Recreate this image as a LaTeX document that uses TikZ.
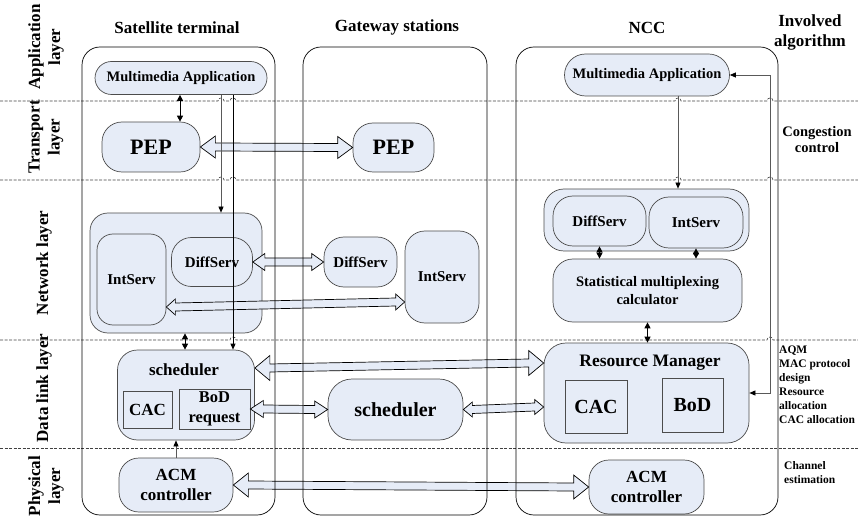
\documentclass[tikz,border=0pt]{standalone}
\usepackage{fontspec}
\setmainfont{Liberation Serif}
\usetikzlibrary{arrows.meta,calc}
\definecolor{boxfill}{HTML}{E6ECF7}
\newcommand{\fs}[2]{\bfseries\fontsize{#1}{#2}\selectfont}
\newcommand{\fatarrow}[4]{%
  \draw[fatline] let \p1=#1, \p2=#2 in
    (\x1,\y1) -- (\x1+#4,\y1+#3) -- (\x1+#4,\y1+4) -- (\x2-#4,\y2+4)
    -- (\x2-#4,\y2+#3) -- (\x2,\y2) -- (\x2-#4,\y2-#3) -- (\x2-#4,\y2-4)
    -- (\x1+#4,\y1-4) -- (\x1+#4,\y1-#3) -- cycle;}
\tikzset{
  box/.style={draw=black!70, fill=boxfill, line width=0.7pt, rounded corners=#1, inner sep=0pt, align=center},
  box/.default=18pt,
  sqbox/.style={draw=black!70, fill=boxfill, line width=0.7pt, inner sep=0pt, align=center},
  tier/.style={draw, line width=0.7pt, rounded corners=18pt, minimum height=468pt},
  layername/.style={rotate=90, font=\fs{17}{20}, align=center},
  layerline/.style={black!75, line width=0.6pt, dash pattern=on 3pt off 1.5pt},
  fatline/.style={draw=black, fill=boxfill, line width=0.7pt, line join=miter},
  feed/.style={line width=0.7pt, -{Triangle[length=6pt,width=5pt,color=black]}},
  twoway/.style={line width=1pt, {Triangle[length=6pt,width=6pt]}-{Triangle[length=6pt,width=6pt]}},
}
\begin{document}
\begin{tikzpicture}[x=1pt,y=-1pt]
\useasboundingbox (0,0) rectangle (858,518);

\node[font=\fs{17}{20}] (stt) at (177,28) {Satellite terminal};
\node[font=\fs{17}{20}] (gwt) at (397,27) {Gateway stations};
\node[font=\fs{17}{20}] (nct) at (647,28) {NCC};
\node[font=\fs{17}{20}, align=center] (alg) at (810,32) {Involved\\algorithm};

\node[layername] (app) at (46,47) {Application\\layer};
\node[layername] (trn) at (46,137) {Transport\\layer};
\node[layername] (net) at (44,263) {Network layer};
\node[layername] (dll) at (44,388) {Data link layer};
\node[layername] (phy) at (46,486) {Physical\\layer};

\draw[layerline] (0,101) foreach \hx in {221,233,678,770} { -- (\hx-3,101) .. controls (\hx-3,97) and (\hx+3,97) .. (\hx+3,101) } -- (858,101);
\draw[layerline] (0,180) foreach \hx in {221,233,678,770} { -- (\hx-3,180) .. controls (\hx-3,176) and (\hx+3,176) .. (\hx+3,180) } -- (858,180);
\draw[layerline] (0,340) foreach \hx in {233,770} { -- (\hx-3,340) .. controls (\hx-3,336) and (\hx+3,336) .. (\hx+3,340) } -- (858,340);
\draw[layerline] (0,448) -- (858,448);

\node[box=16.5pt, minimum width=172pt, minimum height=33pt, font=\fs{14.5}{16}] (mm1) at (181,78) {Multimedia Application};
\node[box=20pt, minimum width=98pt, minimum height=50pt, font=\fs{22}{24}] (pep1) at (151,147) {PEP};
\node[box, minimum width=172pt, minimum height=120pt] (net1) at (176,273) {};
\node[box=16pt, minimum width=69pt, minimum height=91pt, font=\fs{15}{17}] (is1) at (131.5,279.5) {IntServ};
\node[box=20pt, minimum width=81pt, minimum height=49pt, font=\fs{15}{17}] (ds1) at (212,262) {DiffServ};
\node[box=20pt, minimum width=137pt, minimum height=90pt] (sch1) at (186,395) {};
\node[font=\fs{17}{20}] (sch1t) at (184,370) {scheduler};
\node[sqbox, minimum width=49pt, minimum height=37pt, font=\fs{17}{20}] (cac1) at (147.5,409.5) {CAC};
\node[sqbox, minimum width=71pt, minimum height=40pt, font=\fs{16.5}{20}] (bod1) at (214.5,409) {BoD\\request};
\node[box=20pt, minimum width=114pt, minimum height=54pt, font=\fs{17}{20}] (acm1) at (176,485) {ACM\\controller};

\node[box=20pt, minimum width=81pt, minimum height=49pt, font=\fs{22}{24}] (pep2) at (393.5,147.5) {PEP};
\node[box=20pt, minimum width=73pt, minimum height=50pt, font=\fs{15}{17}] (ds2) at (360.5,262) {DiffServ};
\node[box=20pt, minimum width=74pt, minimum height=92pt, font=\fs{15}{17}] (is2) at (442,277) {IntServ};
\node[box=24pt, minimum width=135pt, minimum height=61pt, font=\fs{20}{24}] (sch2) at (395.5,409.5) {scheduler};

\node[box=21pt, minimum width=165pt, minimum height=42pt, font=\fs{14.5}{16}] (mm3) at (647,75) {Multimedia Application};
\node[box=20pt, minimum width=205pt, minimum height=62pt] (dsis) at (646.5,220) {};
\node[box=20pt, minimum width=93pt, minimum height=50pt, font=\fs{15}{17}] (ds3) at (599.5,221) {DiffServ};
\node[box=20pt, minimum width=94pt, minimum height=51pt, font=\fs{15}{17}] (is3) at (696,222.5) {IntServ};
\node[box=20pt, minimum width=189pt, minimum height=63pt, font=\fs{14.5}{18}] (sm) at (647.5,290.5) {Statistical multiplexing\\calculator};
\node[box=22pt, minimum width=205pt, minimum height=100pt] (rm) at (646.5,393) {};
\node[font=\fs{17.5}{20}] (rmt) at (650,363) {Resource Manager};
\node[sqbox, minimum width=62pt, minimum height=53pt, font=\fs{20}{24}] (cac3) at (596,406.5) {CAC};
\node[sqbox, minimum width=61pt, minimum height=54pt, font=\fs{20}{24}] (bod3) at (692.5,405) {BoD};
\node[box=20pt, minimum width=115pt, minimum height=54pt, font=\fs{17}{20}] (acm3) at (646.5,487) {ACM\\controller};

\node[font=\fs{14.5}{15.5}, align=center] (cc) at (817,139.5) {Congestion\\control};
\node[font=\fs{11.5}{14}, align=left, anchor=north west, inner sep=0pt] (mac) at (779,346) {AQM\\MAC protocol\\design\\Resource\\allocation\\CAC allocation};
\node[font=\fs{11.5}{14}, align=left, anchor=north west, inner sep=0pt] (ce) at (784,461) {Channel\\estimation};

\fatarrow{(pep1.east)}{(pep2.west)}{11}{15}
\fatarrow{(ds1.east)}{(ds2.west)}{8.5}{12}
\fatarrow{([yshift=-27.5pt]is1.east)}{([yshift=-25pt]is2.west)}{8}{9}
\fatarrow{([yshift=27pt]sch1.east)}{([yshift=30pt]rm.west)}{12.5}{15}
\fatarrow{(bod1.east)}{(sch2.west)}{8.5}{13}
\fatarrow{(sch2.east)}{([yshift=-14pt]rm.west)}{7.5}{9}
\fatarrow{(acm1.east)}{(acm3.west)}{12}{15}

\draw[feed, black!65] ([xshift=40pt]mm1.south) -- ([xshift=40pt]mm1.south |- net1.north);
\draw[feed] ([xshift=52pt]mm1.south) -- ([xshift=52pt]mm1.south |- sch1.north);
\draw[feed, black!65] ([xshift=31pt]mm3.south) -- ([xshift=31pt]mm3.south |- dsis.north);
\draw[feed, black!65] (acm1.north) -- (acm1.north |- sch1.south);
\draw[black!65, line width=0.7pt, {Triangle[length=6pt,width=5pt,color=black]}-{Triangle[length=6pt,width=5pt,color=black]}] (mm3.east) -- ++(40,0) |- (rm.east);

\draw[twoway] (mm1.south -| 180,0) -- (pep1.north -| 180,0);
\draw[twoway] ([xshift=9pt]net1.south) -- ([xshift=9pt]net1.south |- sch1.north);
\draw[twoway] (ds3.south) -- (ds3.south |- sm.north);
\draw[twoway] (is3.south) -- (is3.south |- sm.north);
\draw[twoway] (sm.south) -- (sm.south |- rm.north);

\node[tier, minimum width=193pt] (st) at (178.5,281) {};
\node[tier, minimum width=184pt] (gw) at (395,281) {};
\node[tier, minimum width=262pt] (ncc) at (647,281) {};
\end{tikzpicture}
\end{document}
